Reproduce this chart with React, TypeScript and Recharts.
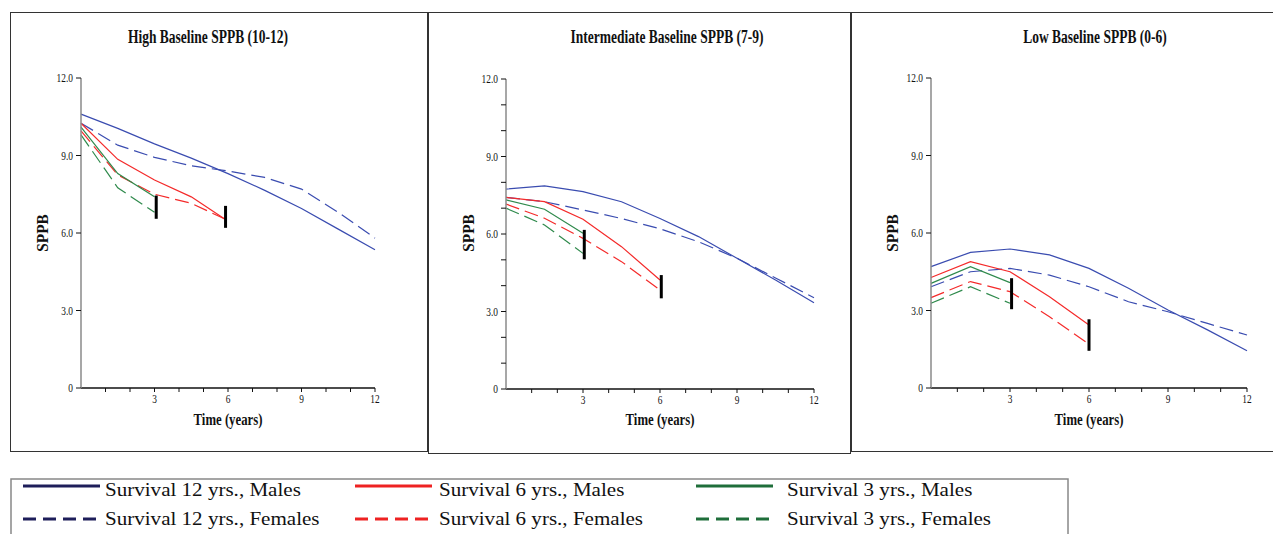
import { LineChart, Line, XAxis, YAxis, ReferenceLine } from "recharts"

const T12 = [0, 1.5, 3, 4.5, 6, 7.5, 9, 10.5, 12]
const T6 = [0, 1.5, 3, 4.5, 6]
const T6_HIGH = [0, 1.5, 3, 4.5, 5.85]
const T3 = [0, 1.5, 3]

const highM12 = [10.6, 10.05, 9.45, 8.9, 8.3, 7.65, 6.95, 6.15, 5.35]
const highF12 = [10.25, 9.4, 8.93, 8.6, 8.4, 8.15, 7.7, 6.8, 5.8]
const highM6 = [10.25, 8.85, 8.05, 7.4, 6.55]
const highF6 = [9.95, 8.25, 7.5, 7.15, 6.55]
const highM3 = [10.1, 8.3, 7.4]
const highF3 = [9.8, 7.75, 6.8]
const highBars = [
  { t: 3.07, hi: 7.45, lo: 6.55 },
  { t: 5.9, hi: 7.05, lo: 6.2 },
]

const intM12 = [7.74, 7.86, 7.64, 7.25, 6.6, 5.9, 5.06, 4.22, 3.34]
const intF12 = [7.42, 7.25, 6.93, 6.6, 6.2, 5.7, 5.06, 4.3, 3.53]
const intM6 = [7.42, 7.25, 6.57, 5.51, 4.22]
const intF6 = [7.16, 6.61, 5.83, 4.93, 3.83]
const intM3 = [7.32, 6.96, 6.03]
const intF3 = [7.0, 6.35, 5.25]
const intBars = [
  { t: 3.05, hi: 6.16, lo: 5.02 },
  { t: 6.05, hi: 4.41, lo: 3.51 },
]

const lowM12 = [4.7, 5.25, 5.38, 5.15, 4.63, 3.86, 3.02, 2.25, 1.44]
const lowF12 = [3.92, 4.5, 4.63, 4.37, 3.92, 3.34, 2.95, 2.5, 2.05]
const lowM6 = [4.28, 4.89, 4.5, 3.53, 2.44]
const lowF6 = [3.5, 4.12, 3.73, 2.76, 1.7]
const lowM3 = [4.05, 4.7, 4.08]
const lowF3 = [3.28, 3.92, 3.28]
const lowBars = [
  { t: 3.06, hi: 4.25, lo: 3.05 },
  { t: 6.0, hi: 2.66, lo: 1.44 },
]

const X_TICKS = [1, 2, 3, 4, 5, 6, 7, 8, 9, 10, 11, 12]
const X_LABELS = [3, 6, 9, 12]
const Y_TICKS = [0, 3, 6, 9, 12]
const Y_TICKS_MINOR = [0, 1, 2, 3, 4, 5, 6, 7, 8, 9, 10, 11, 12]

const LEGEND_NAMES = [
  "Survival 12 yrs., Males",
  "Survival 6 yrs., Males",
  "Survival 3 yrs., Males",
  "Survival 12 yrs., Females",
  "Survival 6 yrs., Females",
  "Survival 3 yrs., Females",
]

const BLUE = "#3a4cb0"
const RED = "#f42a2a"
const GREEN = "#2f8a4c"
const SERIF = "'Liberation Serif', 'Times New Roman', serif"
const SQUASH = 0.75

const pts = (times: number[], vals: number[]) => times.map((t, i) => ({ t, v: vals[i] }))

const panels = [
  {
    title: "High Baseline SPPB (10-12)",
    box: { left: 10, top: 12, width: 418, height: 440 },
    margin: { top: 66, right: 53, left: 21, bottom: 34 },
    titleX: 198,
    yLabelX: 31.5,
    xLabelX: 218,
    yTicks: Y_TICKS,
    lines: [
      { d: pts(T12, highM12), c: BLUE, dash: false },
      { d: pts(T12, highF12), c: BLUE, dash: true },
      { d: pts(T6_HIGH, highM6), c: RED, dash: false },
      { d: pts(T6_HIGH, highF6), c: RED, dash: true },
      { d: pts(T3, highM3), c: GREEN, dash: false },
      { d: pts(T3, highF3), c: GREEN, dash: true },
    ],
    bars: highBars,
  },
  {
    title: "Intermediate Baseline SPPB (7-9)",
    box: { left: 428, top: 12, width: 423, height: 442 },
    margin: { top: 67, right: 37, left: 28, bottom: 35 },
    titleX: 239,
    yLabelX: 40,
    xLabelX: 232,
    yTicks: Y_TICKS_MINOR,
    lines: [
      { d: pts(T12, intM12), c: BLUE, dash: false },
      { d: pts(T12, intF12), c: BLUE, dash: true },
      { d: pts(T6, intM6), c: RED, dash: false },
      { d: pts(T6, intF6), c: RED, dash: true },
      { d: pts(T3, intM3), c: GREEN, dash: false },
      { d: pts(T3, intF3), c: GREEN, dash: true },
    ],
    bars: intBars,
  },
  {
    title: "Low Baseline SPPB (0-6)",
    box: { left: 851, top: 12, width: 430, height: 440 },
    margin: { top: 66, right: 34, left: 30, bottom: 34 },
    titleX: 244,
    yLabelX: 41,
    xLabelX: 238,
    yTicks: Y_TICKS,
    lines: [
      { d: pts(T12, lowM12), c: BLUE, dash: false },
      { d: pts(T12, lowF12), c: BLUE, dash: true },
      { d: pts(T6, lowM6), c: RED, dash: false },
      { d: pts(T6, lowF6), c: RED, dash: true },
      { d: pts(T3, lowM3), c: GREEN, dash: false },
      { d: pts(T3, lowF3), c: GREEN, dash: true },
    ],
    bars: lowBars,
  },
]

function XTick(props: any) {
  const { x, y, payload } = props
  if (!X_LABELS.includes(payload.value)) return <g />
  return (
    <g transform={`translate(${x},${y})`}>
      <text transform={`scale(${SQUASH},1)`} textAnchor="middle" dy={9} fontFamily={SERIF} fontSize={12.5} fill="#111">
        {payload.value}
      </text>
    </g>
  )
}

function YTick(props: any) {
  const { x, y, payload } = props
  if (!Y_TICKS.includes(payload.value)) return <g />
  const label = payload.value === 0 ? "0" : payload.value.toFixed(1)
  return (
    <g transform={`translate(${x},${y})`}>
      <text transform={`scale(${SQUASH},1)`} textAnchor="end" dy={4} fontFamily={SERIF} fontSize={12.5} fill="#111">
        {label}
      </text>
    </g>
  )
}

const textBase: any = {
  position: "absolute",
  fontFamily: SERIF,
  fontWeight: "bold",
  whiteSpace: "nowrap",
  lineHeight: 1,
  color: "#111",
}

function Panel({ p }: { p: any }) {
  const { left, top, width, height } = p.box
  return (
    <div style={{ position: "absolute", left, top, width, height }}>
      <div style={{ position: "absolute", left: 0, top: 0 }}>
        <LineChart width={width} height={height} margin={p.margin}>
          <XAxis
            type="number"
            dataKey="t"
            domain={[0, 12]}
            ticks={X_TICKS}
            interval={0}
            height={30}
            tick={XTick}
            tickSize={4}
            tickMargin={2}
            axisLine={{ stroke: "#111", strokeWidth: 1.3 }}
            tickLine={{ stroke: "#111" }}
          />
          <YAxis
            type="number"
            domain={[0, 12]}
            ticks={p.yTicks}
            interval={0}
            width={50}
            tick={YTick}
            tickSize={5}
            tickMargin={3}
            axisLine={{ stroke: "#8a8a8a", strokeWidth: 1.5 }}
            tickLine={{ stroke: "#111" }}
          />
          {p.lines.map((l: any, i: number) => (
            <Line
              key={i}
              data={l.d}
              dataKey="v"
              type="linear"
              stroke={l.c}
              strokeWidth={1.2}
              strokeDasharray={l.dash ? "14 6" : undefined}
              dot={false}
              activeDot={false}
              isAnimationActive={false}
            />
          ))}
          {p.bars.map((b: any, i: number) => (
            <ReferenceLine
              key={"b" + i}
              segment={[
                { x: b.t, y: b.hi },
                { x: b.t, y: b.lo },
              ]}
              stroke="#000"
              strokeWidth={3}
              ifOverflow="visible"
            />
          ))}
        </LineChart>
      </div>
      <div
        style={{
          position: "absolute",
          left: 0,
          top: 0,
          width,
          height,
          boxSizing: "border-box",
          border: "1.5px solid #333",
          pointerEvents: "none",
        }}
      />
      <div style={{ ...textBase, left: p.titleX, top: 16, fontSize: 18, transform: `translateX(-50%) scaleX(${SQUASH})` }}>
        {p.title}
      </div>
      <div
        style={{
          ...textBase,
          left: p.yLabelX,
          top: 221,
          fontSize: 17,
          transform: "translate(-50%,-50%) rotate(-90deg) scaleX(0.9)",
        }}
      >
        SPPB
      </div>
      <div
        style={{
          ...textBase,
          left: p.xLabelX,
          top: 407,
          fontSize: 17,
          transform: `translate(-50%,-50%) scaleX(${SQUASH})`,
        }}
      >
        Time (years)
      </div>
    </div>
  )
}

function Legend() {
  const colors = ["#1e1e5a", "#ee2222", "#1f6e3a"]
  const lineX = [23, 355, 696]
  const textX = [105, 439, 787]
  return (
    <svg width={1273} height={64} style={{ position: "absolute", left: 0, top: 470 }}>
      <rect x={11} y={9} width={1057} height={70} fill="none" stroke="#888" strokeWidth={1.5} />
      {LEGEND_NAMES.map((name, i) => {
        const col = i % 3
        const row = Math.floor(i / 3)
        const ly = row === 0 ? 16 : 49
        return (
          <g key={name}>
            <line
              x1={lineX[col]}
              x2={lineX[col] + 77}
              y1={ly}
              y2={ly}
              stroke={colors[col]}
              strokeWidth={3}
              strokeDasharray={row === 1 ? "13 7" : undefined}
            />
            <text
              transform={`translate(${textX[col]},${row === 0 ? 26 : 55}) scale(1.17,1)`}
              fontFamily={SERIF}
              fontSize={18}
              fill="#111"
            >
              {name}
            </text>
          </g>
        )
      })}
    </svg>
  )
}

export default function App() {
  return (
    <div
      style={{
        position: "absolute",
        left: 0,
        top: 0,
        width: 1273,
        height: 534,
        background: "#fff",
        overflow: "hidden",
      }}
    >
      {panels.map((p) => (
        <Panel key={p.title} p={p} />
      ))}
      <Legend />
    </div>
  )
}
